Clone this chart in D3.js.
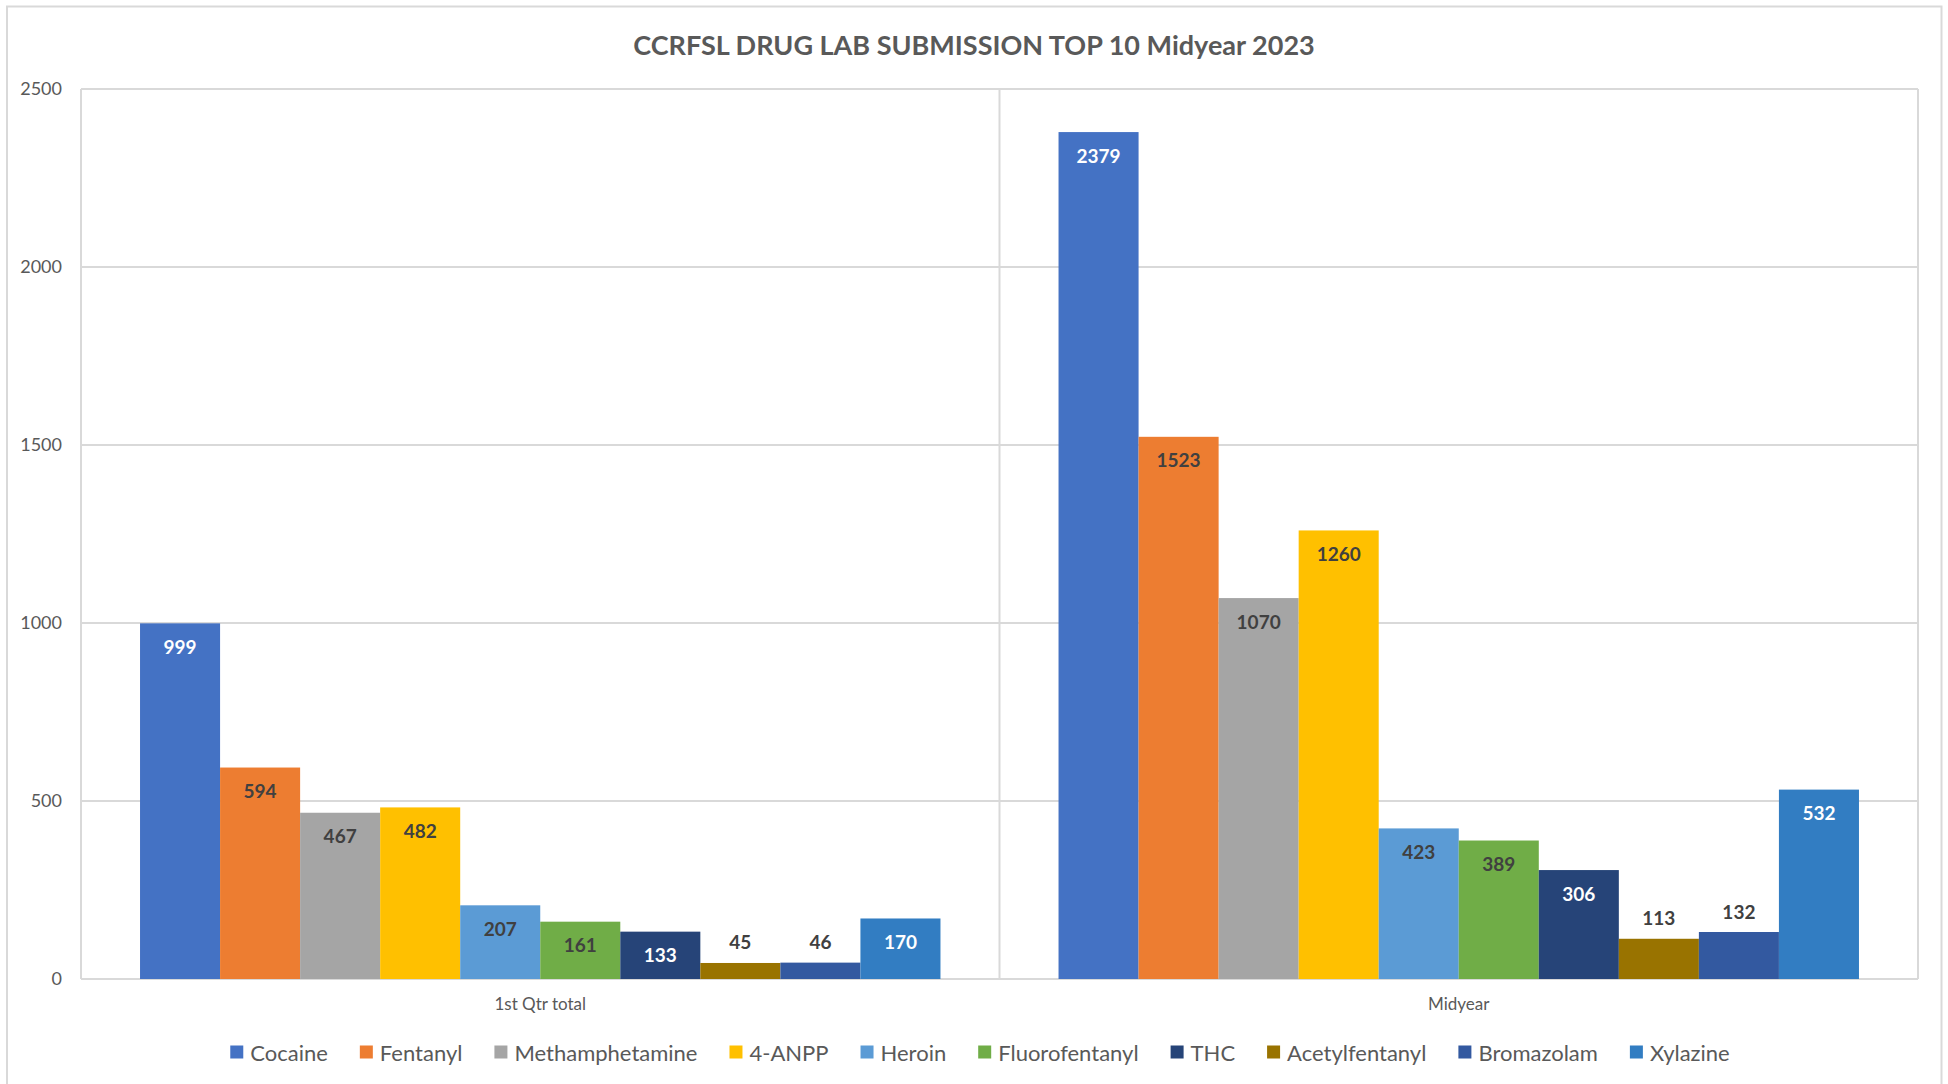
<!DOCTYPE html>
<html>
<head>
<meta charset="utf-8">
<script src="https://cdn.jsdelivr.net/npm/d3@7"></script>
<style>
  html, body { margin: 0; padding: 0; background: #fff; }
  .js-chart { width: 1948px; height: 1084px; }
  text { font-family: Lato, "Open Sans", sans-serif; }
</style>
</head>
<body>
<div class="js-chart"></div>
<script>
// Chart data:
const categories = ["1st Qtr total", "Midyear"];
const seriesNames = ["Cocaine", "Fentanyl", "Methamphetamine", "4-ANPP", "Heroin",
  "Fluorofentanyl", "THC", "Acetylfentanyl", "Bromazolam", "Xylazine"];
const qtrValues = [999, 594, 467, 482, 207, 161, 133, 45, 46, 170];
const midyearValues = [2379, 1523, 1070, 1260, 423, 389, 306, 113, 132, 532];
const seriesColors = ["#4472C4", "#ED7D31", "#A5A5A5", "#FFC000", "#5B9BD5",
  "#70AD47", "#264478", "#997300", "#3359A0", "#327DC2"];
const yTicks = [0, 500, 1000, 1500, 2000, 2500];
const chartTitle = "CCRFSL DRUG LAB SUBMISSION TOP 10 Midyear 2023";

const barChart = (function () {
  "use strict";

  var publicAPIs = {};

  var width = 1948;
  var height = 1084;
  var plot = { left: 81, right: 1918, top: 89, bottom: 979 };
  var gridColor = "#D9D9D9";
  var textColor = "#595959";
  var labelDark = "#404040";

  // series whose labels sit white inside the bar / above the bar
  var whiteLabels = ["Cocaine", "THC", "Xylazine"];
  var outsideLabels = ["Acetylfentanyl", "Bromazolam"];

  var svg = null;

  publicAPIs.init = function (selector) {
    svg = d3.select(selector)
      .append("svg")
      .attr("width", width)
      .attr("height", height);

    var rows = [];
    categories.forEach(function (cat, ci) {
      var vals = ci === 0 ? qtrValues : midyearValues;
      seriesNames.forEach(function (name, si) {
        rows.push({ category: cat, series: name, value: vals[si], color: seriesColors[si] });
      });
    });

    var x0 = d3.scaleBand().domain(categories).range([plot.left, plot.right]);
    var x1 = d3.scaleBand().domain(seriesNames)
      .range([0, x0.bandwidth()])
      .paddingInner(0)
      .paddingOuter(0.7375);
    var y = d3.scaleLinear().domain([0, 2500]).range([plot.bottom, plot.top]);

    drawFrame();
    drawGrid(x0, y);
    drawBars(rows, x0, x1, y);
    drawLabels(rows, x0, x1, y);
    drawAxes(x0, y);
    drawTitle();
    drawLegend();
  };

  var drawFrame = function () {
    svg.append("rect")
      .attr("x", 7).attr("y", 6.5)
      .attr("width", 1934.5).attr("height", 1120)
      .attr("fill", "#fff")
      .attr("stroke", gridColor)
      .attr("stroke-width", 2);
  };

  var drawGrid = function (x0, y) {
    svg.append("g")
      .selectAll("line")
      .data(yTicks)
      .enter().append("line")
      .attr("x1", plot.left).attr("x2", plot.right)
      .attr("y1", function (d) { return y(d); })
      .attr("y2", function (d) { return y(d); })
      .attr("stroke", gridColor)
      .attr("stroke-width", 2);

    // vertical lines at category boundaries
    var edges = categories.map(function (c) { return x0(c); }).concat([plot.right]);
    svg.append("g")
      .selectAll("line")
      .data(edges)
      .enter().append("line")
      .attr("x1", function (d) { return d; }).attr("x2", function (d) { return d; })
      .attr("y1", plot.top).attr("y2", plot.bottom)
      .attr("stroke", gridColor)
      .attr("stroke-width", 2);
  };

  var drawBars = function (rows, x0, x1, y) {
    svg.append("g")
      .selectAll("rect")
      .data(rows)
      .enter().append("rect")
      .attr("x", function (d) { return x0(d.category) + x1(d.series); })
      .attr("y", function (d) { return y(d.value); })
      .attr("width", x1.bandwidth())
      .attr("height", function (d) { return y(0) - y(d.value); })
      .attr("fill", function (d) { return d.color; });
  };

  var drawLabels = function (rows, x0, x1, y) {
    svg.append("g")
      .selectAll("text")
      .data(rows)
      .enter().append("text")
      .attr("x", function (d) { return x0(d.category) + x1(d.series) + x1.bandwidth() / 2; })
      .attr("y", function (d) {
        return outsideLabels.indexOf(d.series) >= 0 ? y(d.value) - 21 : y(d.value) + 23;
      })
      .attr("text-anchor", "middle")
      .attr("dominant-baseline", "central")
      .attr("font-size", 19)
      .attr("font-weight", "bold")
      .attr("fill", function (d) {
        if (outsideLabels.indexOf(d.series) >= 0) return labelDark;
        return whiteLabels.indexOf(d.series) >= 0 ? "#fff" : labelDark;
      })
      .text(function (d) { return d.value; });
  };

  var drawAxes = function (x0, y) {
    var yAxis = svg.append("g")
      .attr("transform", "translate(" + (plot.left - 19) + ",0)")
      .call(d3.axisLeft(y).tickValues(yTicks).tickFormat(d3.format("d"))
        .tickSize(0).tickPadding(0));
    yAxis.select(".domain").remove();
    yAxis.selectAll("text")
      .attr("font-size", 18)
      .attr("fill", textColor)
      .style("font-family", "Lato, 'Open Sans', sans-serif");

    var xAxis = svg.append("g")
      .attr("transform", "translate(0," + plot.bottom + ")")
      .call(d3.axisBottom(x0).tickSize(0).tickPadding(19));
    xAxis.select(".domain").remove();
    xAxis.selectAll("text")
      .attr("font-size", 17)
      .attr("fill", textColor)
      .style("font-family", "Lato, 'Open Sans', sans-serif");
  };

  var drawTitle = function () {
    svg.append("text")
      .attr("x", 974)
      .attr("y", 44)
      .attr("text-anchor", "middle")
      .attr("dominant-baseline", "central")
      .attr("font-size", 27)
      .attr("font-weight", "bold")
      .attr("fill", textColor)
      .text(chartTitle);
  };

  /**
   * Legend in one row, centred under the plot.
   */
  var drawLegend = function () {
    var box = 13, gap = 7, spacing = 32;
    var legend = svg.append("g");
    var items = legend.selectAll("g")
      .data(seriesNames)
      .enter().append("g");

    items.append("rect")
      .attr("width", box).attr("height", box)
      .attr("y", -box / 2)
      .attr("fill", function (d, i) { return seriesColors[i]; });

    items.append("text")
      .attr("x", box + gap)
      .attr("dominant-baseline", "central")
      .attr("font-size", 22)
      .attr("fill", textColor)
      .text(function (d) { return d; });

    var offset = 0;
    items.each(function () {
      var g = d3.select(this);
      var w = box + gap + g.select("text").node().getComputedTextLength();
      g.attr("transform", "translate(" + offset + ",0)");
      offset += w + spacing;
    });
    var total = offset - spacing;
    legend.attr("transform", "translate(" + (980 - total / 2) + ",1052)");
  };

  return publicAPIs;
})();

if (d3 && document.querySelectorAll(".js-chart").length) {
  barChart.init(".js-chart");
}
</script>
</body>
</html>
